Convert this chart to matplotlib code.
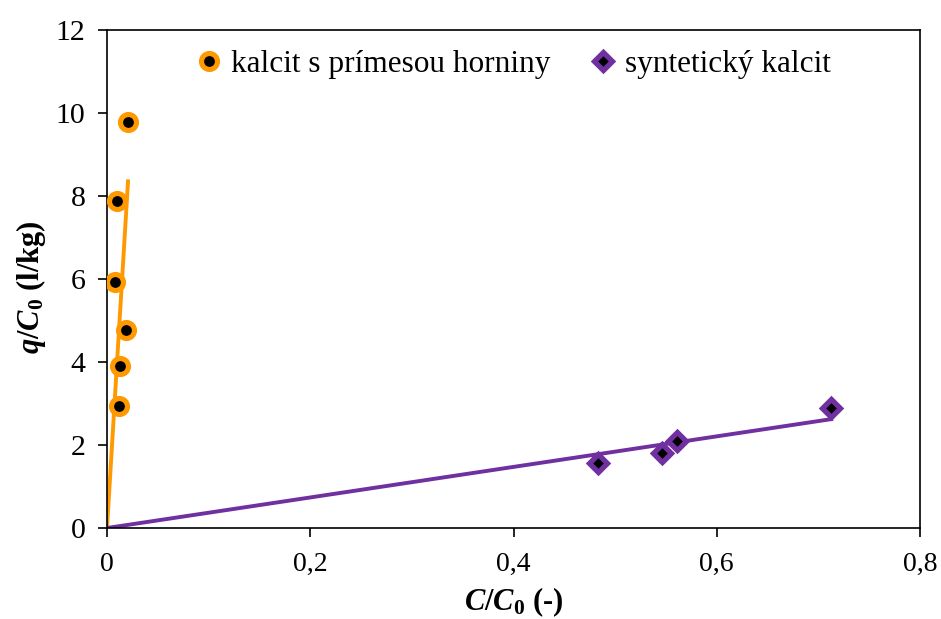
import numpy as np
import matplotlib
matplotlib.use("Agg")
import matplotlib.pyplot as plt

plt.rcParams["font.family"] = ["Liberation Serif", "DejaVu Serif"]
plt.rcParams["mathtext.fontset"] = "custom"
plt.rcParams["mathtext.rm"] = "Liberation Serif"
plt.rcParams["mathtext.bf"] = "Liberation Serif:bold"
plt.rcParams["mathtext.bfit"] = "Liberation Serif:bold:italic"
plt.rcParams["mathtext.it"] = "Liberation Serif:italic"

# kalcit s prímesou horniny
x_rock = [0.0207, 0.0098, 0.0079, 0.0187, 0.0128, 0.0118]
y_rock = [9.78, 7.88, 5.93, 4.77, 3.90, 2.94]

# syntetický kalcit
x_syn = [0.483, 0.546, 0.561, 0.7126]
y_syn = [1.57, 1.81, 2.10, 2.89]

labels = ["kalcit s prímesou horniny", "syntetický kalcit"]
x_ticks = [0, 0.2, 0.4, 0.6, 0.8]
y_ticks = [0, 2, 4, 6, 8, 10, 12]

orange = "#FF9900"
purple = "#7030A0"


def origin_fit(x, y):
    """Least-squares line through the origin, drawn up to the largest x."""
    x = np.asarray(x)
    y = np.asarray(y)
    k = np.sum(x * y) / np.sum(x * x)
    xs = np.array([0.0, x.max()])
    return xs, k * xs


fig = plt.figure(figsize=(9.41, 6.19), dpi=100)
ax = fig.add_axes([0.1137, 0.147, 0.864, 0.8045])

xs, ys = origin_fit(x_rock, y_rock)
ax.plot(xs, ys, color=orange, lw=2.8, zorder=2)
xs, ys = origin_fit(x_syn, y_syn)
ax.plot(xs, ys, color=purple, lw=2.8, zorder=2)

ax.plot(x_rock, y_rock, "o", ms=11.5, mfc="black", mec=orange, mew=3.7,
        label=labels[0], zorder=3)
ax.plot(x_syn, y_syn, "D", ms=9.0, mfc="black", mec=purple, mew=3.8,
        label=labels[1], zorder=3)

ax.set_xlim(0, 0.8)
ax.set_ylim(0, 12)
ax.set_xticks(x_ticks)
ax.set_yticks(y_ticks)
ax.set_xticklabels([("%g" % v).replace(".", ",") for v in x_ticks])
ax.set_yticklabels([str(v) for v in y_ticks])
ax.tick_params(direction="out", length=6.5, width=1.2)
ax.tick_params(axis="x", pad=11, labelsize=20)
ax.tick_params(axis="y", pad=9, labelsize=21.5)
for s in ax.spines.values():
    s.set_linewidth(1.2)

ax.set_xlabel(r"$\mathbfit{C}$/$\mathbfit{C}_{\mathbf{0}}$ (-)",
              fontsize=22, fontweight="bold", labelpad=6)
ax.set_ylabel(r"$\mathbfit{q}$/$\mathbfit{C}_{\mathbf{0}}$ (l/kg)",
              fontsize=22, fontweight="bold")
ax.yaxis.set_label_coords(-0.073, 0.484)

ax.legend(loc="upper center", bbox_to_anchor=(0.5, 1.0), ncol=2, frameon=False,
          fontsize=22.5, handlelength=0.8, handletextpad=0.3, columnspacing=1.3,
          borderaxespad=0.25)

fig.savefig("out.png", dpi=100)
